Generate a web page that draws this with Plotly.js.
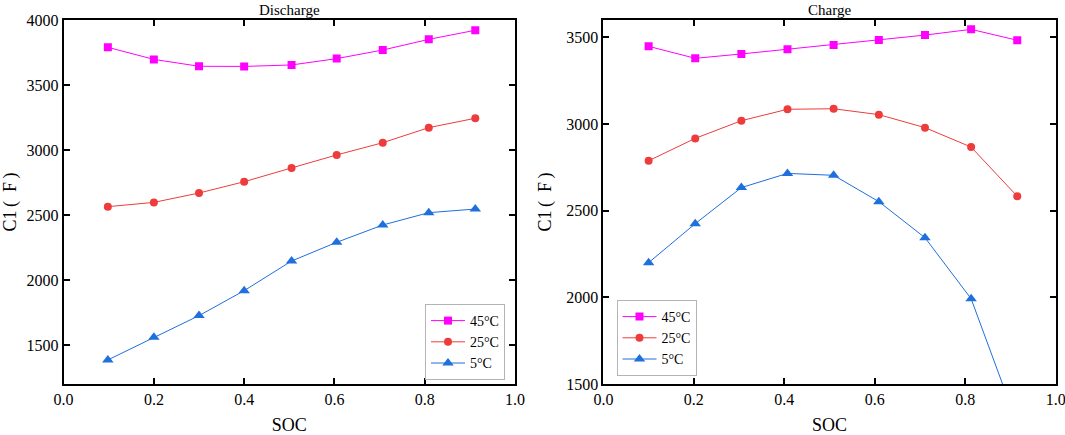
<!DOCTYPE html>
<html>
<head>
<meta charset="utf-8">
<script src="https://cdn.plot.ly/plotly-3.0.1.min.js"></script>
<style>html,body{margin:0;padding:0;background:#fff;}#chart{width:1065px;height:435px;}</style>
</head>
<body>
<div id="chart"></div>
<script>
// ---- data ----
const socDischarge = [0.098, 0.2, 0.3, 0.4, 0.505, 0.605, 0.707, 0.809, 0.912];
const discharge45 = [3790, 3697, 3644, 3643, 3654, 3703, 3769, 3851, 3921];
const discharge25 = [2564, 2597, 2669, 2756, 2862, 2962, 3056, 3172, 3244];
const discharge5  = [1385, 1560, 1726, 1918, 2146, 2290, 2423, 2518, 2546];

const socCharge = [0.1, 0.203, 0.305, 0.407, 0.509, 0.609, 0.711, 0.813, 0.915];
const charge45 = [3448, 3379, 3404, 3431, 3456, 3485, 3513, 3546, 3483];
const charge25 = [2788, 2917, 3019, 3085, 3088, 3054, 2979, 2867, 2583];
const charge5  = [2200, 2425, 2633, 2715, 2704, 2552, 2344, 1992, 1270];

const seriesNames = ['45°C', '25°C', '5°C'];
const panelTitles = ['Discharge', 'Charge'];
const xTitle = 'SOC';
const yTitle = 'C1\u2009(\u2002F\u2009)';

// ---- styles ----
const colors = ['#ff00ff', '#ee3b3b', '#1f6fdc'];
const symbols = ['square', 'circle', 'triangle-up'];
const sizes = [8, 8, 10];
const FONT = 'Liberation Serif, Times New Roman, serif';

function mk(x, y, i, xa, ya, lg) {
  return {
    x: x, y: y, name: seriesNames[i], type: 'scatter', mode: 'lines+markers',
    xaxis: xa, yaxis: ya, legend: lg,
    line: {color: colors[i], width: 1},
    marker: {color: colors[i], symbol: symbols[i], size: sizes[i], line: {width: 0}}
  };
}

const traces = [
  mk(socDischarge, discharge45, 0, 'x', 'y', 'legend'),
  mk(socDischarge, discharge25, 1, 'x', 'y', 'legend'),
  mk(socDischarge, discharge5, 2, 'x', 'y', 'legend'),
  mk(socCharge, charge45, 0, 'x2', 'y2', 'legend2'),
  mk(socCharge, charge25, 1, 'x2', 'y2', 'legend2'),
  mk(socCharge, charge5, 2, 'x2', 'y2', 'legend2')
];

const axBase = {
  showline: true, linecolor: '#000', linewidth: 2, mirror: 'ticks',
  ticks: 'inside', ticklen: 6, tickwidth: 2, tickcolor: '#000',
  showgrid: false, zeroline: false, ticklabeloverflow: 'allow',
  tickfont: {family: FONT, size: 16, color: '#000'}
};

function xax(domain, anchor) {
  return Object.assign({}, axBase, {
    domain: domain, anchor: anchor, range: [0, 1], dtick: 0.2, tickformat: '.1f',
    title: {text: xTitle, font: {family: FONT, size: 18, color: '#000'}, standoff: 13}
  });
}
function yax(domain, anchor, range) {
  return Object.assign({}, axBase, {
    domain: domain, anchor: anchor, range: range, dtick: 500,
    title: {text: yTitle, font: {family: FONT, size: 18, color: '#000'}, standoff: 10}
  });
}

const yDom = [1 - 384 / 435, 1 - 20 / 435];
const legStyle = {
  bgcolor: '#fff', bordercolor: '#b4b4b4', borderwidth: 1,
  font: {family: FONT, size: 14, color: '#000'},
  xanchor: 'left', yanchor: 'top', tracegroupgap: 0, itemwidth: 34
};

const layout = {
  width: 1065, height: 435,
  margin: {l: 0, r: 0, t: 0, b: 0},
  paper_bgcolor: '#fff', plot_bgcolor: '#fff',
  font: {family: FONT, color: '#000'},
  xaxis: xax([63.6 / 1065, 515 / 1065], 'y'),
  yaxis: yax(yDom, 'x', [1200, 4000]),
  xaxis2: xax([603.4 / 1065, 1055.7 / 1065], 'y2'),
  yaxis2: yax(yDom, 'x2', [1500, 3600]),
  legend: Object.assign({}, legStyle, {x: 425 / 1065, y: 1 - 304 / 435}),
  legend2: Object.assign({}, legStyle, {x: 616.5 / 1065, y: 1 - 300 / 435}),
  annotations: [
    {text: panelTitles[0], xref: 'x domain', yref: 'paper', x: 0.5, y: 1 - 19 / 435,
     xanchor: 'center', yanchor: 'bottom', showarrow: false, borderpad: 0,
     font: {family: FONT, size: 15, color: '#000'}},
    {text: panelTitles[1], xref: 'x2 domain', yref: 'paper', x: 0.5, y: 1 - 19 / 435,
     xanchor: 'center', yanchor: 'bottom', showarrow: false, borderpad: 0,
     font: {family: FONT, size: 15, color: '#000'}}
  ],
  showlegend: true
};

Plotly.newPlot('chart', traces, layout, {displayModeBar: false, staticPlot: true});
</script>
</body>
</html>
